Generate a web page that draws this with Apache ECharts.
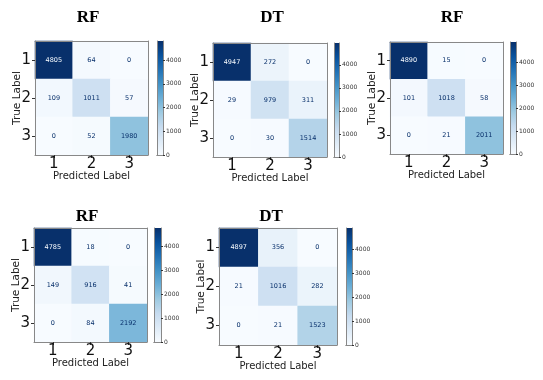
<!DOCTYPE html>
<html lang="en">
<head>
<meta charset="UTF-8">
<title>Confusion matrices</title>
<style>html,body{margin:0;padding:0;background:#fff;}</style>
</head>
<body>
<div id="main" style="width:543px;height:380px;"></div>
<script src="https://cdn.jsdelivr.net/npm/echarts@6/dist/echarts.min.js"></script>
<script>
// class labels and panel titles
var classLabels = ['1', '2', '3'];
var panelTitles = ['RF', 'DT', 'RF', 'RF', 'DT'];

// confusion matrices, rows = true label, columns = predicted label
var cmRF1 = [[4805, 64, 0], [109, 1011, 57], [0, 52, 1980]];
var cmDT1 = [[4947, 272, 0], [29, 979, 311], [0, 30, 1514]];
var cmRF2 = [[4890, 15, 0], [101, 1018, 58], [0, 21, 2011]];
var cmRF3 = [[4785, 18, 0], [149, 916, 41], [0, 84, 2192]];
var cmDT2 = [[4897, 356, 0], [21, 1016, 282], [0, 21, 1523]];
var matrices = [cmRF1, cmDT1, cmRF2, cmRF3, cmDT2];

var colorbarTicks = [0, 1000, 2000, 3000, 4000];

// matplotlib "Blues"
var blues = ['#f7fbff', '#deebf7', '#c6dbef', '#9ecae1', '#6baed6', '#4292c6', '#2171b5', '#08519c', '#08306b'];

// layout of each panel: heatmap box, colorbar left/width, title centre
var layout = [
  { left: 35, top: 41, w: 113, h: 114, cb: 157, cbw: 6, tx: 88, ty: 18 },
  { left: 213, top: 43, w: 114, h: 114, cb: 334, cbw: 5, tx: 272, ty: 18 },
  { left: 390, top: 42, w: 113, h: 112, cb: 510, cbw: 6, tx: 452, ty: 18 },
  { left: 34, top: 228, w: 113, h: 114, cb: 154, cbw: 7, tx: 87, ty: 217 },
  { left: 219, top: 228, w: 118, h: 117, cb: 346, cbw: 6, tx: 271, ty: 217 }
];

var font = 'DejaVu Sans';
var frame = { show: true, lineStyle: { color: '#888', width: 1 } };

var grid = [], xAxis = [], yAxis = [], series = [], visualMap = [], graphic = [];

matrices.forEach(function (cm, i) {
  var L = layout[i];
  var vmax = Math.max.apply(null, cm.map(function (r) { return Math.max.apply(null, r); }));
  var vmin = Math.min.apply(null, cm.map(function (r) { return Math.min.apply(null, r); }));
  var thresh = (vmax + vmin) / 2;

  // heatmap grid
  var g = grid.length;
  grid.push({ left: L.left, top: L.top, width: L.w, height: L.h });
  var xi = xAxis.length, yi = yAxis.length;
  xAxis.push({
    type: 'category', gridIndex: g, data: classLabels, position: 'bottom', z: 5,
    axisLine: frame, axisTick: { show: true, length: 3, alignWithLabel: true, lineStyle: { color: '#333' } },
    axisLabel: { fontSize: 15, fontFamily: font, color: '#111', margin: 2 },
    name: 'Predicted Label', nameLocation: 'middle', nameGap: 16, nameMoveOverlap: false,
    nameTextStyle: { fontSize: 10, fontFamily: font, color: '#222' }
  });
  xAxis.push({
    type: 'category', gridIndex: g, data: classLabels, position: 'top', z: 5,
    axisLine: frame, axisTick: { show: false }, axisLabel: { show: false }
  });
  yAxis.push({
    type: 'category', gridIndex: g, data: classLabels, inverse: true, position: 'left', z: 5,
    axisLine: frame, axisTick: { show: true, length: 3, alignWithLabel: true, lineStyle: { color: '#333' } },
    axisLabel: { fontSize: 15, fontFamily: font, color: '#111', margin: 4 },
    name: 'True Label', nameLocation: 'middle', nameGap: 12, nameRotate: 90, nameMoveOverlap: false,
    nameTextStyle: { fontSize: 10.5, fontFamily: font, color: '#222' }
  });
  yAxis.push({
    type: 'category', gridIndex: g, data: classLabels, inverse: true, position: 'right', z: 5,
    axisLine: frame, axisTick: { show: false }, axisLabel: { show: false }
  });

  var data = [];
  cm.forEach(function (row, r) {
    row.forEach(function (v, c) {
      data.push({ value: [c, r, v], label: { color: v > thresh ? '#f7fbff' : '#08306b' } });
    });
  });
  var si = series.length;
  series.push({
    type: 'heatmap', xAxisIndex: xi, yAxisIndex: yi, data: data,
    label: { show: true, fontSize: 6.5, fontFamily: font, formatter: function (p) { return p.value[2]; } },
    emphasis: { disabled: true }
  });
  visualMap.push({
    type: 'continuous', show: false, min: vmin, max: vmax, seriesIndex: si, dimension: 2,
    inRange: { color: blues }
  });

  // colorbar grid
  var cg = grid.length;
  grid.push({ left: L.cb, top: L.top, width: L.cbw, height: L.h });
  var cxi = xAxis.length, cyi = yAxis.length;
  xAxis.push({
    type: 'category', gridIndex: cg, data: [''], position: 'bottom', z: 5,
    axisLine: frame, axisTick: { show: false }, axisLabel: { show: false }
  });
  xAxis.push({
    type: 'category', gridIndex: cg, data: [''], position: 'top', z: 5,
    axisLine: frame, axisTick: { show: false }, axisLabel: { show: false }
  });
  yAxis.push({
    type: 'value', gridIndex: cg, min: vmin, max: vmax, position: 'right', z: 5,
    splitLine: { show: false }, axisLine: frame,
    axisTick: { show: true, length: 2, customValues: colorbarTicks, lineStyle: { color: '#333' } },
    axisLabel: {
      fontSize: 6, fontFamily: font, color: '#333', margin: 3, customValues: colorbarTicks,
      formatter: function (v) { return String(v); }
    }
  });
  yAxis.push({
    type: 'value', gridIndex: cg, min: vmin, max: vmax, position: 'left', z: 5,
    splitLine: { show: false }, axisLine: frame, axisTick: { show: false }, axisLabel: { show: false }
  });
  series.push({
    type: 'bar', xAxisIndex: cxi, yAxisIndex: cyi, data: [vmax], barWidth: '100%', silent: true,
    itemStyle: {
      color: new echarts.graphic.LinearGradient(0, 0, 0, 1, blues.slice().reverse().map(function (c, k) {
        return { offset: k / (blues.length - 1), color: c };
      }))
    }
  });

  graphic.push({
    type: 'text', x: L.tx, y: L.ty,
    style: { text: panelTitles[i], font: 'bold 17px "Liberation Serif"', fill: '#000', align: 'center', verticalAlign: 'middle' }
  });
});

var chart = echarts.init(document.getElementById('main'));
chart.setOption({
  animation: false,
  grid: grid,
  xAxis: xAxis,
  yAxis: yAxis,
  visualMap: visualMap,
  series: series,
  graphic: graphic
});
</script>
</body>
</html>
